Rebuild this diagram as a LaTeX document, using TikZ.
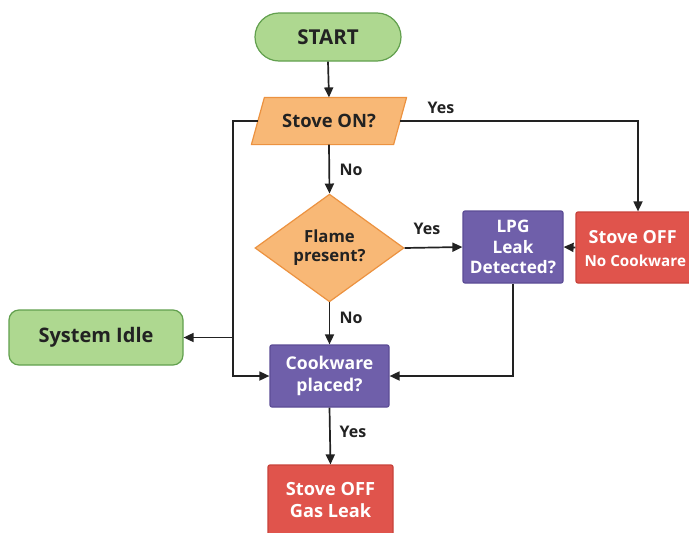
\documentclass[tikz,border=0pt]{standalone}
\usepackage{fontspec}
\setmainfont{Open Sans}
\usetikzlibrary{shapes.geometric,arrows.meta,calc}
\definecolor{gfill}{RGB}{174,216,144}
\definecolor{gdraw}{RGB}{98,160,78}
\definecolor{ofill}{RGB}{248,184,118}
\definecolor{odraw}{RGB}{236,146,64}
\definecolor{pfill}{RGB}{111,95,170}
\definecolor{pdraw}{RGB}{92,76,150}
\definecolor{rfill}{RGB}{224,84,76}
\definecolor{rdraw}{RGB}{200,66,58}
\definecolor{ink}{RGB}{34,34,34}
\newcommand{\fs}[2]{\bfseries\fontsize{#1}{#2}\selectfont}
\tikzset{
  base/.style={font=\fs{18}{21}, align=center, inner sep=0pt, line width=1.2pt},
  term/.style={base, rectangle, rounded corners=#1, fill=gfill, draw=gdraw, text=ink},
  decis/.style={base, diamond, fill=ofill, draw=odraw, text=ink},
  pbox/.style={base, rectangle, rounded corners=2pt, fill=pfill, draw=pdraw, text=white},
  rbox/.style={base, rectangle, rounded corners=2pt, fill=rfill, draw=rdraw, text=white},
  conn/.style={draw=ink, line width=1.7pt, -{Triangle[length=10pt,width=9pt]}},
  lbl/.style={font=\fs{16}{18}, text=ink, inner sep=0pt}
}
\begin{document}
\begin{tikzpicture}[x=1pt,y=-1pt]
\useasboundingbox (0,0) rectangle (689,533);
\fill[white] (0,0) rectangle (689,533);
% nodes
\node[term=24pt, minimum width=146pt, minimum height=48pt, font=\fs{20.5}{24}] (start) at (328,37) {START};
\node[base, rectangle, minimum width=141pt, minimum height=46pt] (stove) at (329,121) {};
\filldraw[fill=ofill, draw=odraw, line width=1.2pt, line join=round]
  ($(stove.north west)+(6.5,0)$) -- ($(stove.north east)+(6.5,0)$) --
  ($(stove.south east)+(-6.5,0)$) -- ($(stove.south west)+(-6.5,0)$) -- cycle;
\node[base, text=ink, font=\fs{18.4}{21}] at (stove.center) {Stove ON?};
\node[decis, minimum width=149pt, minimum height=96pt, font=\fs{16.7}{19}] (flame) at (329.5,248) {Flame\\present?};
\node[pbox, minimum width=100pt, minimum height=72pt, font=\fs{17.2}{20.5}] (lpg) at (513,247) {LPG\\Leak\\Detected?};
\node[rbox, minimum width=124pt, minimum height=71pt] (off1) at (638,247.5) {};
\node[base, text=white, anchor=west] at (588,237) {Stove OFF};
\node[base, text=white, anchor=west, font=\fs{15.2}{18}] at (584,261) {No Cookware};
\node[term=10pt, minimum width=174pt, minimum height=55pt, font=\fs{20}{23}] (idle) at (96,337.5) {System Idle};
\node[pbox, minimum width=119pt, minimum height=62pt, font=\fs{17.6}{22}] (cook) at (329.5,376) {Cookware\\placed?};
\node[rbox, minimum width=125pt, minimum height=70pt, font=\fs{18.2}{22}] (off2) at (330.5,500) {Stove OFF\\Gas Leak};
\coordinate (lx) at (233,0);
% connectors
\draw[conn] (start.south) -- (stove.north);
\draw[conn] (stove.south) -- (flame.north);
\draw[conn] (stove.east) -| (off1.north);
\draw[conn] (flame.east) -- (lpg.west);
\draw[conn] (off1.west) -- (lpg.east);
\draw[conn] (lpg.south) |- (cook.east);
\draw[conn] (flame.south) -- (cook.north);
\draw[conn] (stove.west) -| (lx |- cook.west) -- (cook.west);
\draw[conn] (lx |- idle.east) -- (idle.east);
\draw[conn] (cook.south) -- (off2.north);
% labels
\node[lbl] at (441,108) {Yes};
\node[lbl] at (351,170) {No};
\node[lbl] at (427,229) {Yes};
\node[lbl] at (351,318) {No};
\node[lbl] at (353,432) {Yes};
\end{tikzpicture}
\end{document}
